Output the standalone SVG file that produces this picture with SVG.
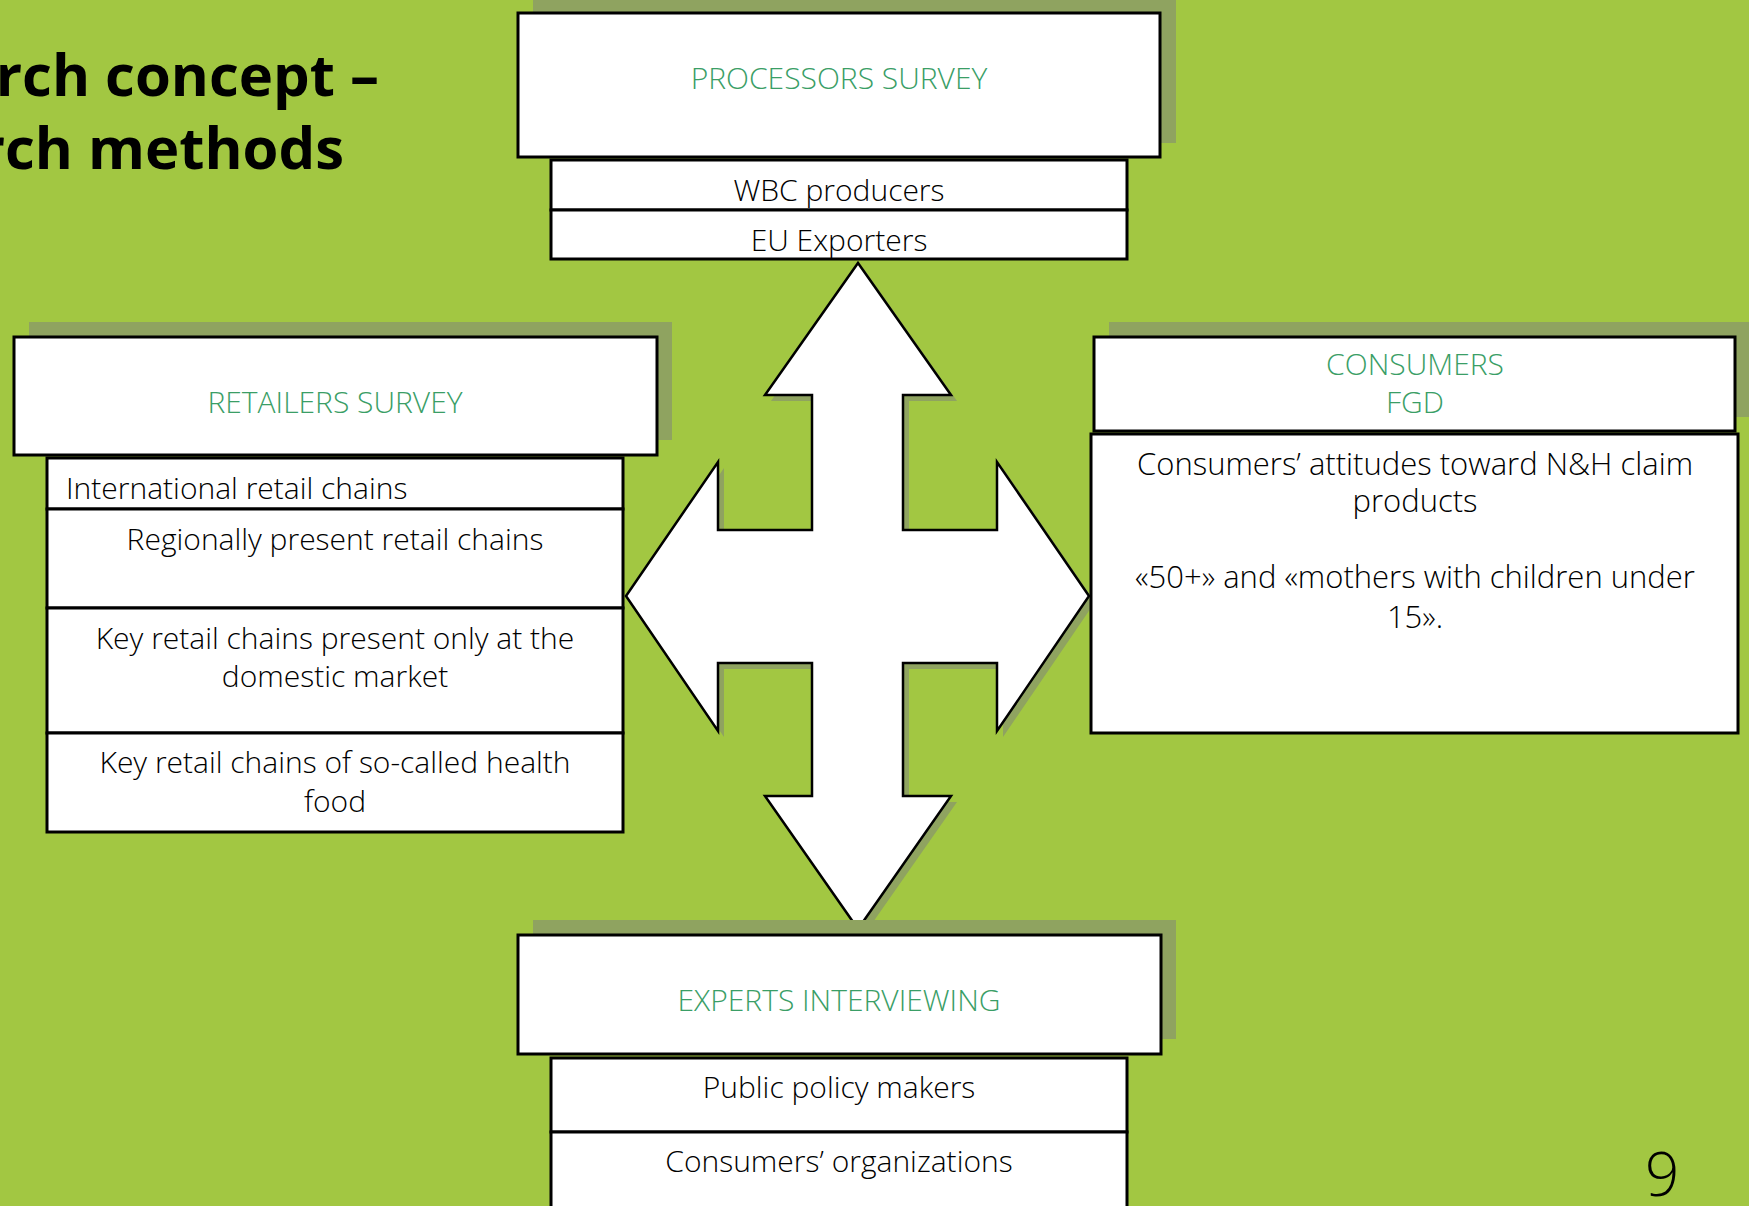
<svg xmlns="http://www.w3.org/2000/svg" width="1749" height="1206" viewBox="0 0 1749 1206">
  <defs>
    <style>
      .bg { fill: #a2c742; }
      .shadow { fill: #8fa360; }
      .box { fill: #ffffff; stroke: #000000; stroke-width: 3; }
      .arrow { fill: #ffffff; stroke: #000000; stroke-width: 2.5; stroke-linejoin: miter; }
      .title { font-family: "Open Sans", "Noto Sans", sans-serif; font-weight: 700; font-size: 58px; fill: #000000; text-anchor: end; }
      .head { font-family: "Open Sans", "Noto Sans", sans-serif; font-weight: 350; font-size: 30px; fill: #3a9e66; text-anchor: middle; }
      .item { font-family: "Open Sans", "Noto Sans", sans-serif; font-weight: 350; font-size: 30px; fill: #000000; text-anchor: middle; }
      .item.wide { font-size: 31px; }
      .item.left { text-anchor: start; }
      .page { font-family: "Open Sans", "Noto Sans", sans-serif; font-weight: 300; font-size: 60px; fill: #000000; }
    </style>
  </defs>

  <!-- slide background -->
  <rect class="bg" x="0" y="0" width="1749" height="1206"/>

  <!-- slide title (left part runs off the slide) -->
  <g id="slide-title">
    <text class="title" x="379" y="96">rch concept –</text>
    <text class="title" x="344" y="169">rch methods</text>
  </g>

  <!-- four-way arrow linking the research methods -->
  <g id="connectors">
    <polygon class="shadow" transform="translate(6,6)" points="858,263 951,395 903,395 903,530 997,530 997,462 1089,596 997,731 997,663 903,663 903,796 951,796 858,929 765,796 812,796 812,663 718,663 718,731 626,596 718,462 718,530 812,530 812,395 765,395"/>
    <polygon class="arrow" points="858,263 951,395 903,395 903,530 997,530 997,462 1089,596 997,731 997,663 903,663 903,796 951,796 858,929 765,796 812,796 812,663 718,663 718,731 626,596 718,462 718,530 812,530 812,395 765,395"/>
  </g>

  <!-- processors survey -->
  <g id="processors">
    <rect class="shadow" x="533" y="-1" width="643" height="144"/>
    <rect class="box" x="518" y="13" width="642" height="144"/>
    <text class="head" x="839" y="89">PROCESSORS SURVEY</text>
    <rect class="box" x="551" y="160" width="576" height="50"/>
    <text class="item" x="839" y="201">WBC producers</text>
    <rect class="box" x="551" y="210" width="576" height="49"/>
    <text class="item" x="839" y="251">EU Exporters</text>
  </g>

  <!-- retailers survey -->
  <g id="retailers">
    <rect class="shadow" x="29" y="322" width="643" height="118"/>
    <rect class="box" x="14" y="337" width="643" height="118"/>
    <text class="head" x="335" y="413">RETAILERS SURVEY</text>
    <rect class="box" x="47" y="458" width="576" height="51"/>
    <text class="item left" x="66" y="499">International retail chains</text>
    <rect class="box" x="47" y="509" width="576" height="99"/>
    <text class="item" x="335" y="550">Regionally present retail chains</text>
    <rect class="box" x="47" y="608" width="576" height="125"/>
    <text class="item" x="335" y="649">Key retail chains present only at the</text>
    <text class="item" x="335" y="687">domestic market</text>
    <rect class="box" x="47" y="733" width="576" height="99"/>
    <text class="item" x="335" y="773">Key retail chains of so-called health</text>
    <text class="item" x="335" y="812">food</text>
  </g>

  <!-- consumers focus groups -->
  <g id="consumers">
    <rect class="shadow" x="1109" y="322" width="645" height="95"/>
    <rect class="box" x="1094" y="337" width="641" height="94"/>
    <text class="head" x="1415" y="375">CONSUMERS</text>
    <text class="head" x="1415" y="413">FGD</text>
    <rect class="box" x="1091" y="434" width="647" height="299"/>
    <text class="item wide" x="1415" y="475">Consumers’ attitudes toward N&amp;H claim</text>
    <text class="item wide" x="1415" y="512">products</text>
    <text class="item wide" x="1415" y="588">«50+» and «mothers with children under</text>
    <text class="item wide" x="1415" y="628">15».</text>
  </g>

  <!-- experts interviewing -->
  <g id="experts">
    <rect class="shadow" x="533" y="920" width="643" height="119"/>
    <rect class="box" x="518" y="935" width="643" height="119"/>
    <text class="head" x="839" y="1011">EXPERTS INTERVIEWING</text>
    <rect class="box" x="551" y="1058" width="576" height="74"/>
    <text class="item" x="839" y="1098">Public policy makers</text>
    <rect class="box" x="551" y="1132" width="576" height="90"/>
    <text class="item" x="839" y="1172">Consumers’ organizations</text>
  </g>

  <!-- page number -->
  <g id="page-number">
    <text class="page" x="1645" y="1196">9</text>
  </g>
</svg>
